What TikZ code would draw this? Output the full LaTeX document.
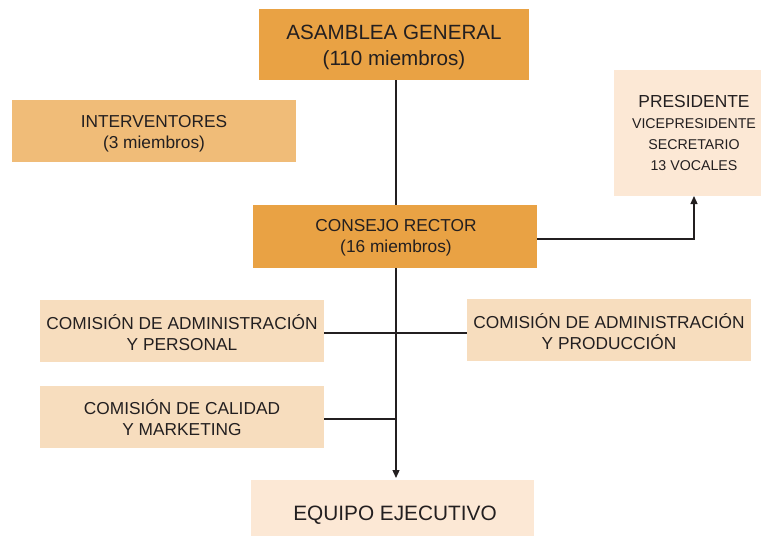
\documentclass[tikz,border=0pt]{standalone}
\usepackage{fontspec}
\setmainfont{Liberation Sans}
\usetikzlibrary{arrows.meta}
\definecolor{orangeA}{HTML}{E9A244}
\definecolor{orangeB}{HTML}{F0BC78}
\definecolor{peachC}{HTML}{F7DDBE}
\definecolor{peachD}{HTML}{FCE8D5}
\definecolor{txt}{HTML}{231F20}
\begin{document}
\begin{tikzpicture}[x=1pt,y=-1pt,
  box/.style={inner sep=0pt,align=center,text=txt},
  conn/.style={draw=txt,line width=1.3pt},
  tip/.style={-{Triangle[length=8pt,width=7pt]}}]
\useasboundingbox (0,0) rectangle (761,536);
\fill[orangeA] (259,9) rectangle (529,80);
\node[box,font=\fontsize{20.6}{26}\selectfont] (ag) at (394,47.5) {ASAMBLEA GENERAL\\(110 miembros)};
\fill[orangeB] (12,100) rectangle (296,162);
\node[box,font=\fontsize{17.3}{21}\selectfont] (int) at (154,134) {INTERVENTORES\\(3 miembros)};
\fill[peachD] (614,70) rectangle (761,196);
\node[box,font=\fontsize{14.2}{21}\selectfont] (pres) at (694,133) {{\fontsize{17.4}{21}\selectfont PRESIDENTE}\\VICEPRESIDENTE\\SECRETARIO\\13 VOCALES};
\fill[orangeA] (253,205) rectangle (537,268);
\node[box,font=\fontsize{17.3}{21}\selectfont] (cr) at (396,238) {CONSEJO RECTOR\\(16 miembros)};
\fill[peachC] (40,300) rectangle (324,362);
\node[box,font=\fontsize{17.3}{21}\selectfont] (cap) at (182,333) {COMISIÓN DE ADMINISTRACIÓN\\Y PERSONAL};
\fill[peachC] (467,299) rectangle (751,361);
\node[box,font=\fontsize{17.3}{21}\selectfont] (cpr) at (609,332) {COMISIÓN DE ADMINISTRACIÓN\\Y PRODUCCIÓN};
\fill[peachC] (40,386) rectangle (324,448);
\node[box,font=\fontsize{17.3}{21}\selectfont] (ccm) at (182,418) {COMISIÓN DE CALIDAD\\Y MARKETING};
\fill[peachD] (251,480) rectangle (534,536);
\node[box,font=\fontsize{20.8}{24}\selectfont] (ee) at (395,515) {EQUIPO EJECUTIVO};
\coordinate (agb) at (396,80);
\coordinate (crt) at (396,205);
\coordinate (crb) at (396,268);
\coordinate (eet) at (396,478);
\coordinate (crr) at (537,239);
\coordinate (prb) at (694,196);
\draw[conn] (agb) -- (crt);
\draw[conn,tip] (crb) -- (eet);
\draw[conn] (324,333) -- (467,333);
\draw[conn] (324,419) -- (396,419);
\draw[conn,tip] (crr) -| (prb);
\end{tikzpicture}
\end{document}
